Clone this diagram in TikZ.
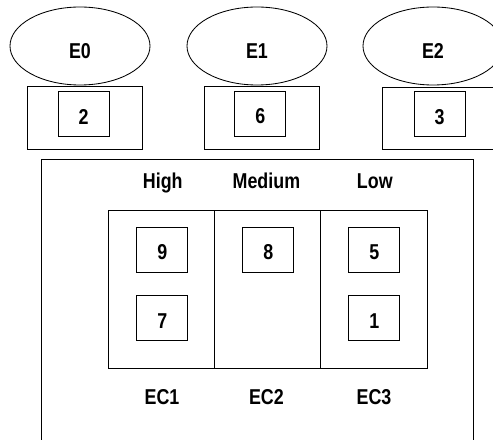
\documentclass[tikz,border=0pt]{standalone}
\usepackage{fontspec}
\setmainfont{Liberation Sans}[FakeStretch=0.83]
\usetikzlibrary{shapes.geometric}

\tikzset{
  engine/.style={ellipse,draw,minimum width=3.5cm,minimum height=1.95cm,text height=0.64cm,text depth=0cm},
  slot/.style={draw,minimum width=2.88cm,minimum height=1.57cm},
  task/.style={draw,minimum width=1.275cm,minimum height=1.125cm,text height=0.49cm,text depth=0cm,inner sep=0pt},
  eclass/.style={draw,minimum width=2.66cm,minimum height=3.95cm,inner sep=0pt},
  tag/.style={anchor=base,inner sep=0pt}
}

\begin{document}
\begin{tikzpicture}[line width=0.6pt,font=\fontsize{15.3}{18}\selectfont\bfseries]
  \useasboundingbox (0,0) rectangle (12.325,-11);
  % engines with their current task
  \node[engine] (E0) at (2.0,-1.15) {E0};
  \node[engine] (E1) at (6.425,-1.15) {E1};
  \node[engine] (E2) at (10.825,-1.15) {E2};
  \node[slot] (S0) at (2.125,-2.94) {}; \node[task] (T2) at (2.09,-2.86) {2};
  \node[slot] (S1) at (6.54,-2.94) {};  \node[task] (T6) at (6.51,-2.84) {6};
  \node[slot] (S2) at (11.01,-2.96) {}; \node[task] (T3) at (10.99,-2.86) {3};
  % queue
  \draw (1.025,-11.3) rectangle (11.825,-3.975);
  \node[eclass] (EC1) at (4.03,-7.225) {};
  \node[eclass] (EC2) at (6.69,-7.225) {};
  \node[eclass] (EC3) at (9.35,-7.225) {};
  \node[tag] (high) at (4.07,-4.7) {High};
  \node[tag] (medium) at (6.66,-4.7) {Medium};
  \node[tag] (low) at (9.37,-4.7) {Low};
  \node[tag] (ec1) at (4.05,-10.12) {EC1};
  \node[tag] (ec2) at (6.66,-10.12) {EC2};
  \node[tag] (ec3) at (9.35,-10.12) {EC3};
  \node[task] (T9) at (4.06,-6.24) {9};
  \node[task] (T7) at (4.06,-7.96) {7};
  \node[task] (T8) at (6.71,-6.24) {8};
  \node[task] (T5) at (9.36,-6.24) {5};
  \node[task] (T1) at (9.36,-7.96) {1};
\end{tikzpicture}
\end{document}
